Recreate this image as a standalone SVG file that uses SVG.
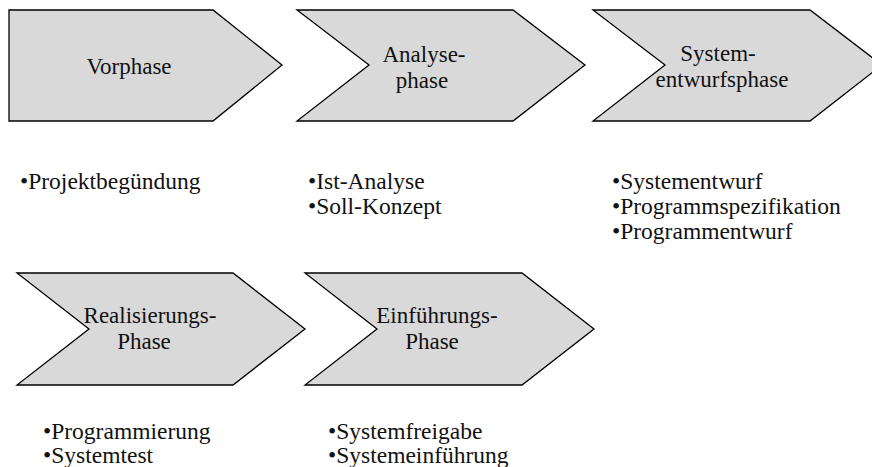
<svg xmlns="http://www.w3.org/2000/svg" width="872" height="467" viewBox="0 0 872 467">
  <style>
    .phase { fill: #d9d9d9; stroke: #000; stroke-width: 1.3; stroke-linejoin: miter; }
    .label { font-family: 'Liberation Serif', 'DejaVu Serif', serif; font-size: 23px; fill: #111; text-anchor: middle; }
    .item { font-family: 'Liberation Serif', 'DejaVu Serif', serif; font-size: 23.5px; fill: #111; }
  </style>
  <rect width="872" height="467" fill="#fff"/>

  <!-- Row 1 -->
  <g id="vorphase">
    <path class="phase" d="M9,10 H213 L282,65 L213,121 H9 Z"/>
    <text class="label" x="129" y="74">Vorphase</text>
  </g>
  <g id="analysephase">
    <path class="phase" d="M297,10 H513 L585,65 L513,121 H297 L369,65 Z"/>
    <text class="label" x="424" y="62">Analyse-</text>
    <text class="label" x="422" y="88">phase</text>
  </g>
  <g id="systementwurfsphase">
    <path class="phase" d="M593,10 H810 L882,65 L810,121 H593 L665,65 Z"/>
    <text class="label" x="718" y="61">System-</text>
    <text class="label" x="722" y="87">entwurfsphase</text>
  </g>

  <!-- Row 2 -->
  <g id="realisierungsphase">
    <path class="phase" d="M17,273 H233 L305,329 L233,385 H17 L89,329 Z"/>
    <text class="label" x="150" y="323">Realisierungs-</text>
    <text class="label" x="144" y="349">Phase</text>
  </g>
  <g id="einfuehrungsphase">
    <path class="phase" d="M305,273 H522 L594,329 L522,385 H305 L377,329 Z"/>
    <text class="label" x="437" y="323">Einführungs-</text>
    <text class="label" x="432" y="349">Phase</text>
  </g>

  <!-- Activity lists -->
  <g id="tasks-vorphase">
    <text class="item" x="20" y="189">•Projektbegündung</text>
  </g>
  <g id="tasks-analyse">
    <text class="item" x="308" y="189">•Ist-Analyse</text>
    <text class="item" x="308" y="214">•Soll-Konzept</text>
  </g>
  <g id="tasks-systementwurf">
    <text class="item" x="612" y="189">•Systementwurf</text>
    <text class="item" x="612" y="214">•Programmspezifikation</text>
    <text class="item" x="612" y="239">•Programmentwurf</text>
  </g>
  <g id="tasks-realisierung">
    <text class="item" x="43" y="439">•Programmierung</text>
    <text class="item" x="43" y="463">•Systemtest</text>
  </g>
  <g id="tasks-einfuehrung">
    <text class="item" x="328" y="439">•Systemfreigabe</text>
    <text class="item" x="328" y="463">•Systemeinführung</text>
  </g>

  <g id="connectors"></g>
</svg>
